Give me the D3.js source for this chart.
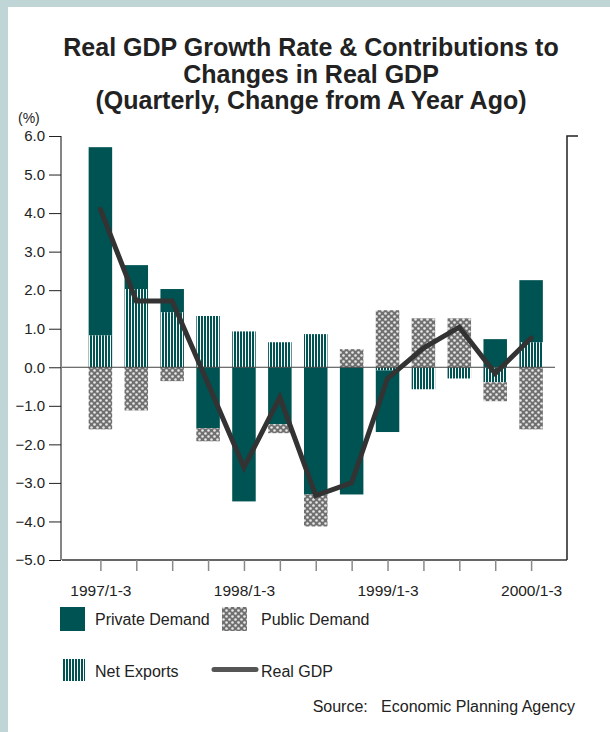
<!DOCTYPE html>
<html>
<head>
<meta charset="utf-8">
<script src="https://cdn.jsdelivr.net/npm/d3@7"></script>
<style>
  html, body { margin: 0; padding: 0; background: #bfd5d6; }
  svg { display: block; }
  text { font-family: "Liberation Sans", Arial, sans-serif; fill: #222; }
</style>
</head>
<body>
<script>
// Quarters, 1997 Q1 through 2000 Q1
const quarters = ["1997/1-3", "1997/4-6", "1997/7-9", "1997/10-12",
  "1998/1-3", "1998/4-6", "1998/7-9", "1998/10-12",
  "1999/1-3", "1999/4-6", "1999/7-9", "1999/10-12", "2000/1-3"];
const tickLabels = ["1997/1-3", "1998/1-3", "1999/1-3", "2000/1-3"];

// Contributions to real GDP growth (percentage points)
const netExports    = [0.83, 2.03, 1.43, 1.33, 0.93, 0.65, 0.86, 0.0, -0.08, -0.57, -0.29, -0.39, 0.65];
const privateDemand = [4.88, 0.62, 0.60, -1.58, -3.48, -1.48, -3.30, -3.30, -1.60, 0.0, 0.0, 0.73, 1.61];
const publicDemand  = [-1.61, -1.12, -0.36, -0.34, 0.0, -0.23, -0.83, 0.47, 1.48, 1.27, 1.27, -0.49, -1.61];
// Real GDP growth rate, change from a year ago (%)
const realGDP       = [4.1, 1.72, 1.72, -0.43, -2.6, -0.78, -3.33, -3.0, -0.29, 0.5, 1.04, -0.16, 0.76];

const yTicks = [-5, -4, -3, -2, -1, 0, 1, 2, 3, 4, 5, 6];

const W = 610, H = 732;
const TEAL = "#005353";
const LINE = "#333333";
const FONT = "Liberation Sans, Arial, sans-serif";

const svg = d3.select("body").append("svg").attr("width", W).attr("height", H);

// White panel inside the tinted frame
svg.append("rect").attr("x", 8).attr("y", 7).attr("width", W - 8).attr("height", H - 7).attr("fill", "#ffffff");

// Fill patterns
const defs = svg.append("defs");
const stripes = defs.append("pattern").attr("id", "stripes")
  .attr("patternUnits", "userSpaceOnUse").attr("width", 3).attr("height", 3);
stripes.append("rect").attr("width", 3).attr("height", 3).attr("fill", "#ffffff");
stripes.append("rect").attr("width", 2).attr("height", 3).attr("fill", TEAL);

const dots = defs.append("pattern").attr("id", "dots")
  .attr("patternUnits", "userSpaceOnUse").attr("width", 6).attr("height", 6);
dots.append("rect").attr("width", 6).attr("height", 6).attr("fill", "#707070");
dots.append("circle").attr("cx", 1.5).attr("cy", 1.5).attr("r", 1.3).attr("fill", "#e8e8e8");
dots.append("circle").attr("cx", 4.5).attr("cy", 4.5).attr("r", 1.3).attr("fill", "#e8e8e8");

// Title
const title = ["Real GDP Growth Rate & Contributions to", "Changes in Real GDP", "(Quarterly, Change from A Year Ago)"];
svg.append("g").selectAll("text").data(title).join("text")
  .attr("x", 311).attr("y", (d, i) => 56 + i * 26.5)
  .attr("text-anchor", "middle")
  .attr("font-size", 25).attr("font-weight", "bold")
  .text(d => d);

// Scales
const x = d3.scalePoint().domain(quarters).range([64.5, 567]).padding(1);
const y = d3.scaleLinear().domain([-5, 6]).range([560, 136]);
const barW = 23.5;

// Stacked bars (positives upward, negatives downward from zero)
const rows = quarters.map((q, i) => ({ q, ne: netExports[i], pd: privateDemand[i], pub: publicDemand[i] }));
const keys = ["ne", "pd", "pub"];
const fills = { ne: "url(#stripes)", pd: TEAL, pub: "url(#dots)" };
const series = d3.stack().keys(keys).offset(d3.stackOffsetDiverging)(rows);

svg.append("g").selectAll("g").data(series).join("g")
  .attr("fill", s => fills[s.key])
  .selectAll("rect").data(s => s).join("rect")
  .attr("x", d => x(d.data.q) - barW / 2)
  .attr("width", barW)
  .attr("y", d => y(Math.max(d[0], d[1])))
  .attr("height", d => Math.abs(y(d[0]) - y(d[1])));

// Zero line
svg.append("line")
  .attr("x1", 62).attr("x2", 555).attr("y1", y(0)).attr("y2", y(0))
  .attr("stroke", "#444").attr("stroke-width", 1);

// Left axis
const yAxis = svg.append("g").attr("transform", "translate(61,0)")
  .call(d3.axisLeft(y).tickValues(yTicks).tickFormat(d3.format(".1f")).tickSize(12).tickPadding(4));
yAxis.select(".domain").attr("stroke", "#858585").attr("stroke-width", 2).attr("d", `M0,${y(6)}V${y(-5)}`);
yAxis.selectAll(".tick line").attr("stroke", "#222");
yAxis.selectAll(".tick text").attr("font-size", 15).attr("font-family", FONT).attr("fill", "#222");

svg.append("text").attr("x", 18).attr("y", 123).attr("font-size", 14).text("(%)");

// Bottom axis
const xAxis = svg.append("g").attr("transform", `translate(0,${y(-5)})`)
  .call(d3.axisBottom(x).tickSize(11).tickPadding(14)
    .tickFormat(d => tickLabels.includes(d) ? d : ""));
xAxis.select(".domain").attr("stroke", "#333").attr("stroke-width", 1.5).attr("d", "M62,0H567");
xAxis.selectAll(".tick line").attr("stroke", "#8a8a8a").attr("stroke-width", 1.5);
xAxis.selectAll(".tick text").attr("font-size", 15.5).attr("font-family", FONT).attr("fill", "#222");

// Right frame line with top stub
svg.append("path")
  .attr("d", `M578,${y(6)}H567V${y(-5)}`)
  .attr("fill", "none").attr("stroke", "#222").attr("stroke-width", 1.5);

// Real GDP line
svg.append("path")
  .datum(realGDP)
  .attr("d", d3.line().x((d, i) => x(quarters[i])).y(d => y(d)))
  .attr("fill", "none").attr("stroke", LINE).attr("stroke-width", 5)
  .attr("stroke-linejoin", "miter").attr("stroke-linecap", "round");

// Legend
const lg = svg.append("g").attr("font-size", 16);
lg.append("rect").attr("x", 60).attr("y", 607).attr("width", 25).attr("height", 24).attr("fill", TEAL);
lg.append("text").attr("x", 95).attr("y", 625).text("Private Demand");
lg.append("rect").attr("x", 222).attr("y", 607).attr("width", 25).attr("height", 24).attr("fill", "url(#dots)");
lg.append("text").attr("x", 261).attr("y", 625).text("Public Demand");
lg.append("rect").attr("x", 62).attr("y", 659).attr("width", 23).attr("height", 22).attr("fill", "url(#stripes)");
lg.append("text").attr("x", 95).attr("y", 677).text("Net Exports");
lg.append("line").attr("x1", 214).attr("x2", 256).attr("y1", 669.5).attr("y2", 669.5)
  .attr("stroke", "#555").attr("stroke-width", 5).attr("stroke-linecap", "round");
lg.append("text").attr("x", 261).attr("y", 677).text("Real GDP");

svg.append("text").attr("x", 575).attr("y", 712).attr("text-anchor", "end")
  .attr("font-size", 16).attr("xml:space", "preserve").text("Source:   Economic Planning Agency");
</script>
</body>
</html>
